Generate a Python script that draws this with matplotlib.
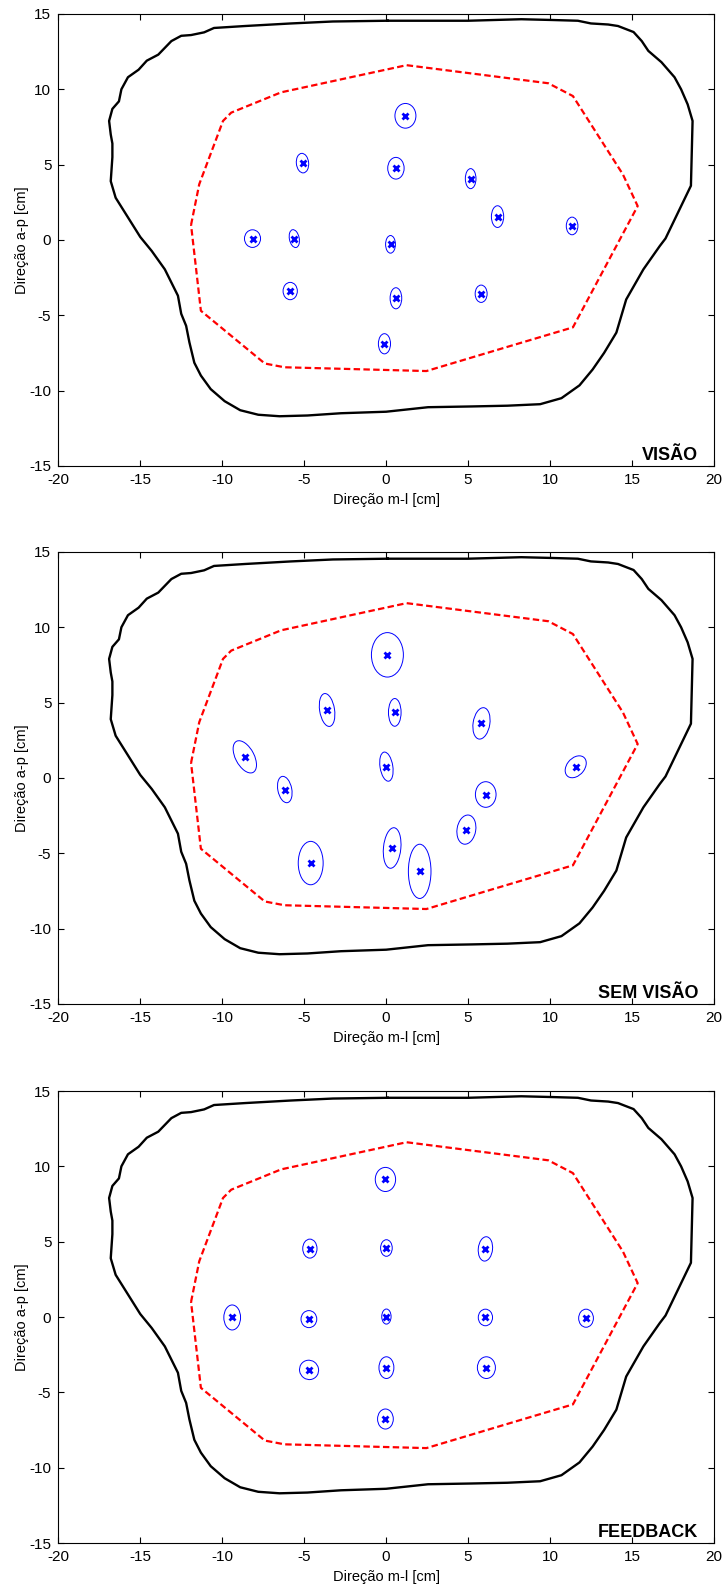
import matplotlib
matplotlib.use("Agg")
import matplotlib.pyplot as plt
from matplotlib.patches import Ellipse

plt.rcParams['font.family'] = ['Liberation Sans', 'DejaVu Sans']
plt.rcParams['axes.unicode_minus'] = False

# limite da base de suporte (preto)
base_x = [0.1, -3.25, -5.8, -8.6, -10.5, -11.1, -11.9, -12.5, -13.1, -13.9, -14.6, -15.1,
          -15.75, -16.15, -16.3, -16.7, -16.9, -16.8, -16.7, -16.7, -16.8, -16.5, -15.75,
          -15.0, -14.3, -13.5, -12.7, -12.5, -12.2, -12.0, -11.7, -11.3, -10.7, -9.85, -8.9,
          -7.8, -6.5, -4.8, -2.75, 0.0, 2.56, 5.2, 7.4, 9.4, 10.7, 11.8, 12.6, 13.3, 14.05,
          14.65, 15.7, 16.7, 17.05, 18.6, 18.7, 18.4, 18.0, 17.6, 16.8, 16.0, 15.6, 15.1,
          14.15, 13.55, 12.5, 11.7, 10.1, 8.25, 5.0, 0.1]
base_y = [14.55, 14.5, 14.37, 14.2, 14.07, 13.78, 13.6, 13.55, 13.2, 12.3, 11.9, 11.3,
          10.8, 10.0, 9.2, 8.7, 7.9, 7.0, 6.4, 5.5, 3.9, 2.8, 1.5,
          0.2, -0.73, -1.95, -3.7, -4.9, -5.7, -6.8, -8.15, -9.0, -9.9, -10.7, -11.3,
          -11.6, -11.7, -11.65, -11.5, -11.4, -11.1, -11.05, -11.0, -10.9, -10.5, -9.65, -8.6, -7.5, -6.15,
          -3.95, -1.95, -0.4, 0.1, 3.6, 7.9, 9.0, 10.0, 10.8, 11.8, 12.55, 13.2, 13.8,
          14.2, 14.3, 14.37, 14.55, 14.6, 14.65, 14.55, 14.55]

# limite de estabilidade (vermelho tracejado)
lim_x = [-11.9, -11.4, -9.95, -9.45, -6.4, 1.25, 9.9, 11.4, 14.45, 15.35, 11.4, 8.0, 2.46,
         -6.2, -7.4, -11.3, -11.9]
lim_y = [1.0, 3.7, 7.9, 8.45, 9.8, 11.6, 10.4, 9.55, 4.35, 2.25, -5.8, -6.9, -8.7,
         -8.45, -8.2, -4.7, 1.0]

# VISAO
vis_x = [1.18, -5.1, 0.6, 5.16, 6.8, 11.35, -8.15, -5.6, 0.27, -5.85, 0.6, 5.8, -0.1]
vis_y = [8.24, 5.1, 4.76, 4.07, 1.55, 0.93, 0.09, 0.09, -0.29, -3.39, -3.87, -3.57, -6.89]
vis_w = [1.28, 0.75, 1.0, 0.65, 0.75, 0.71, 0.98, 0.6, 0.6, 0.87, 0.71, 0.73, 0.74]
vis_h = [1.64, 1.3, 1.44, 1.33, 1.44, 1.17, 1.17, 1.2, 1.17, 1.15, 1.4, 1.15, 1.34]
vis_a = [0, 5, 0, 0, 0, 0, 0, 10, 0, 0, 0, 0, 0]

# SEM VISAO
sem_x = [0.08, -3.6, 0.53, 5.82, -8.62, -6.18, 0.02, 11.57, 6.08, 4.9, 0.37, -4.6, 2.05]
sem_y = [8.17, 4.51, 4.35, 3.62, 1.4, -0.77, 0.75, 0.74, -1.1, -3.43, -4.65, -5.65, -6.2]
sem_w = [1.95, 0.91, 0.77, 1.02, 1.15, 0.85, 0.78, 1.1, 1.26, 1.14, 1.06, 1.52, 1.38]
sem_h = [2.95, 2.2, 1.84, 2.1, 2.3, 1.77, 1.95, 1.6, 1.7, 1.95, 2.7, 2.88, 3.6]
sem_a = [0, 8, 0, -8, 25, 10, 8, -35, 0, -8, -5, 0, 0]

# FEEDBACK
fb_x = [-0.04, -4.65, 0.02, 6.06, -9.39, -4.71, 0.02, 6.06, 12.2, -4.7, 0.02, 6.12, -0.04]
fb_y = [9.13, 4.54, 4.58, 4.52, -0.03, -0.14, 0.03, -0.03, -0.08, -3.51, -3.36, -3.36, -6.77]
fb_w = [1.24, 0.87, 0.71, 0.87, 1.02, 0.96, 0.57, 0.87, 0.9, 1.16, 0.91, 1.1, 0.96]
fb_h = [1.6, 1.26, 1.1, 1.62, 1.66, 1.13, 1.0, 1.1, 1.2, 1.29, 1.44, 1.44, 1.33]
fb_a = [0, 0, 0, -5, 0, 0, 0, 0, 0, 10, 0, 0, 0]

paineis = [
    ("VISÃO", vis_x, vis_y, vis_w, vis_h, vis_a, 0.7062),
    ("SEM VISÃO", sem_x, sem_y, sem_w, sem_h, sem_a, 0.3670),
    ("FEEDBACK", fb_x, fb_y, fb_w, fb_h, fb_a, 0.0271),
]

fig = plt.figure(figsize=(7.26, 15.86), dpi=100)

for nome, cx, cy, ew, eh, ea, bot in paineis:
    ax = fig.add_axes([0.0803, bot, 0.903, 0.285])
    ax.plot(base_x, base_y, color='black', lw=1.7)
    ax.plot(lim_x, lim_y, color='red', lw=1.6, dashes=(2.9, 1.5))
    for i in range(len(cx)):
        e = Ellipse((cx[i], cy[i]), ew[i], eh[i], angle=ea[i], fill=False,
                    edgecolor='#0000ff', lw=0.7)
        ax.add_patch(e)
    ax.plot(cx, cy, 'x', color='#0000ff', ms=5, mew=2)
    ax.set_xlim(-20, 20)
    ax.set_ylim(-15, 15)
    ax.set_xticks(range(-20, 21, 5))
    ax.set_yticks(range(-15, 16, 5))
    ax.tick_params(direction='in', top=True, right=True, length=4, labelsize=11, pad=5)
    for s in ax.spines.values():
        s.set_linewidth(0.8)
    ax.set_xlabel("Direção m-l [cm]", fontsize=10.5, labelpad=4.5)
    ax.set_ylabel("Direção a-p [cm]", fontsize=10.5, labelpad=0)
    ax.text(0.976, 0.014, nome, transform=ax.transAxes, ha='right', va='baseline',
            fontsize=13, fontweight='bold')

fig.savefig("out.png", dpi=100)
